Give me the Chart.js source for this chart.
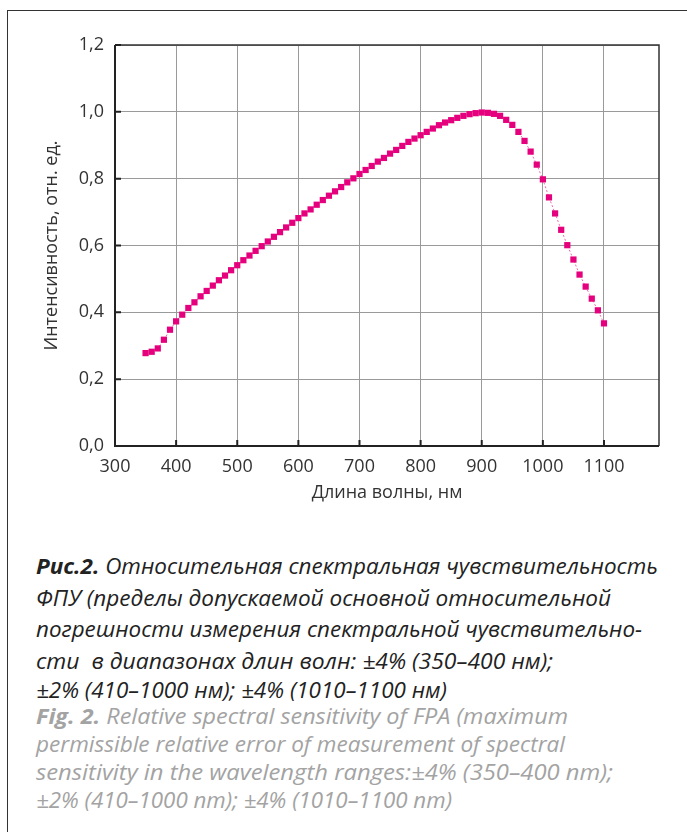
<!DOCTYPE html>
<html>
<head>
<meta charset="utf-8">
<script src="https://cdn.jsdelivr.net/npm/chart.js@4.4.1/dist/chart.umd.min.js"></script>
<style>
  html, body { margin: 0; padding: 0; background: #fff; }
  body { width: 687px; height: 832px; position: relative; overflow: hidden; }
  #frame { position: absolute; left: 7px; top: 10px; right: -5px; bottom: -5px;
           border-top: 1.5px solid #333; border-left: 1.5px solid #333; }
  #box { position: absolute; left: 0; top: 0; width: 687px; height: 520px; }
  .cap { position: absolute; left: 36px; white-space: nowrap; font-family: "Open Sans", sans-serif;
         font-style: italic; font-size: 21px; line-height: 24px; transform-origin: left center; }
  .ru { color: #222; }
  .en { color: #a3a3a3; }
  .cap b { font-weight: 700; }
</style>
</head>
<body>
<div id="frame"></div>
<div id="box"><canvas id="spectrumChart"></canvas></div>

<div class="cap ru" style="top:554px" data-w="622"><b>Рис.2.</b> Относительная спектральная чувствительность</div>
<div class="cap ru" style="top:586px" data-w="575">ФПУ (пределы допускаемой основной относительной</div>
<div class="cap ru" style="top:617px" data-w="606">погрешности измерения спектральной чувствительно-</div>
<div class="cap ru" style="top:649px" data-w="517">сти&nbsp; в диапазонах длин волн: ±4% (350–400 нм);</div>
<div class="cap ru" style="top:678px" data-w="411">±2% (410–1000 нм); ±4% (1010–1100 нм)</div>
<div class="cap en" style="top:704px" data-w="532"><b>Fig. 2.</b> Relative spectral sensitivity of FPA (maximum</div>
<div class="cap en" style="top:732px" data-w="529">permissible relative error of measurement of spectral</div>
<div class="cap en" style="top:760px" data-w="577">sensitivity in the wavelength ranges:±4% (350–400 nm);</div>
<div class="cap en" style="top:788px" data-w="416">±2% (410–1000 nm); ±4% (1010–1100 nm)</div>

<script>
// wavelength, nm
var wavelengths = [350, 360, 370, 380, 390, 400, 410, 420, 430, 440,
    450, 460, 470, 480, 490, 500, 510, 520, 530, 540,
    550, 560, 570, 580, 590, 600, 610, 620, 630, 640,
    650, 660, 670, 680, 690, 700, 710, 720, 730, 740,
    750, 760, 770, 780, 790, 800, 810, 820, 830, 840,
    850, 860, 870, 880, 890, 900, 910, 920, 930, 940,
    950, 960, 970, 980, 990, 1000, 1010, 1020, 1030, 1040,
    1050, 1060, 1070, 1080, 1090, 1100];

// relative sensitivity
var intensity = [0.278, 0.282, 0.292, 0.318, 0.348, 0.373, 0.393, 0.413, 0.430, 0.448,
    0.464, 0.480, 0.496, 0.510, 0.526, 0.541, 0.556, 0.570, 0.584, 0.598,
    0.612, 0.626, 0.640, 0.654, 0.668, 0.682, 0.696, 0.708, 0.722, 0.736,
    0.749, 0.762, 0.775, 0.789, 0.801, 0.814, 0.826, 0.838, 0.851, 0.862,
    0.875, 0.886, 0.898, 0.910, 0.920, 0.930, 0.940, 0.950, 0.960, 0.968,
    0.975, 0.982, 0.988, 0.993, 0.996, 0.998, 0.997, 0.994, 0.988, 0.976,
    0.961, 0.940, 0.913, 0.881, 0.842, 0.798, 0.744, 0.696, 0.647, 0.601,
    0.558, 0.513, 0.477, 0.441, 0.406, 0.367];

var xTicks = [300, 400, 500, 600, 700, 800, 900, 1000, 1100];
var yTicks = [0, 0.2, 0.4, 0.6, 0.8, 1.0, 1.2];

var points = wavelengths.map(function (w, i) { return { x: w, y: intensity[i] }; });

// plot frame + short inner ticks
var framePlugin = {
    id: 'frame',
    afterDraw: function (chart) {
        var ctx = chart.ctx, a = chart.chartArea;
        var xs = chart.scales.x, ys = chart.scales.y;
        ctx.save();
        ctx.strokeStyle = '#333';
        ctx.lineWidth = 1.5;
        ctx.beginPath();
        ctx.moveTo(a.left, a.top);
        ctx.lineTo(a.right, a.top);
        ctx.lineTo(a.right, a.bottom);
        ctx.stroke();
        ctx.lineWidth = 2;
        ctx.strokeStyle = '#222';
        ctx.beginPath();
        ctx.moveTo(a.left, a.top);
        ctx.lineTo(a.left, a.bottom);
        ctx.lineTo(a.right, a.bottom);
        xTicks.forEach(function (t) {
            var px = xs.getPixelForValue(t);
            ctx.moveTo(px, a.bottom);
            ctx.lineTo(px, a.bottom - 6);
        });
        yTicks.forEach(function (t) {
            var py = ys.getPixelForValue(t);
            ctx.moveTo(a.left, py);
            ctx.lineTo(a.left + 6, py);
        });
        ctx.stroke();
        ctx.restore();
    }
};

var ctx = document.getElementById('spectrumChart').getContext('2d');
var spectrumChart = new Chart(ctx, {
    type: 'scatter',
    data: {
        datasets: [{
            data: points,
            showLine: true,
            borderColor: 'rgba(230, 0, 126, 0.6)',
            borderWidth: 1,
            borderDash: [2, 2],
            pointStyle: 'rect',
            pointRadius: 4.4,
            pointBorderWidth: 0,
            pointBackgroundColor: '#e5007d',
            pointBorderColor: '#e5007d'
        }]
    },
    options: {
        responsive: true,
        maintainAspectRatio: false,
        animation: false,
        devicePixelRatio: 1,
        layout: { padding: { left: 0, top: 45, right: 28, bottom: 0 } },
        plugins: { legend: { display: false }, tooltip: { enabled: false } },
        scales: {
            x: {
                type: 'linear',
                min: 300,
                max: 1190,
                afterBuildTicks: function (scale) {
                    scale.ticks = xTicks.map(function (v) { return { value: v }; });
                },
                afterFit: function (scale) { scale.height = 74; },
                grid: { color: '#9a9a9a', lineWidth: 1, drawTicks: false },
                border: { display: false },
                ticks: {
                    padding: 10,
                    color: '#333',
                    font: { family: 'Open Sans', size: 18 },
                    maxRotation: 0,
                    callback: function (v) { return String(v); }
                },
                title: {
                    display: true,
                    text: 'Длина волны, нм',
                    color: '#333',
                    font: { family: 'Open Sans', size: 18 },
                    padding: { top: 0, bottom: 16 }
                }
            },
            y: {
                min: 0,
                max: 1.2,
                afterBuildTicks: function (scale) {
                    scale.ticks = yTicks.map(function (v) { return { value: v }; });
                },
                afterFit: function (scale) { scale.width = 115; },
                grid: { color: '#9a9a9a', lineWidth: 1, drawTicks: false },
                border: { display: false },
                ticks: {
                    padding: 11,
                    color: '#333',
                    font: { family: 'Open Sans', size: 18 },
                    callback: function (v) { return v.toFixed(1).replace('.', ','); }
                },
                title: {
                    display: true,
                    text: 'Интенсивность, отн. ед.',
                    color: '#333',
                    font: { family: 'Open Sans', size: 18 },
                    padding: { top: 41, bottom: 0 }
                }
            }
        }
    },
    plugins: [framePlugin]
});

// squeeze caption lines to the condensed width of the original
document.querySelectorAll('.cap').forEach(function (el) {
    var target = parseFloat(el.getAttribute('data-w'));
    var w = el.getBoundingClientRect().width;
    el.style.transform = 'scaleX(' + (target / w) + ')';
});
</script>
</body>
</html>
